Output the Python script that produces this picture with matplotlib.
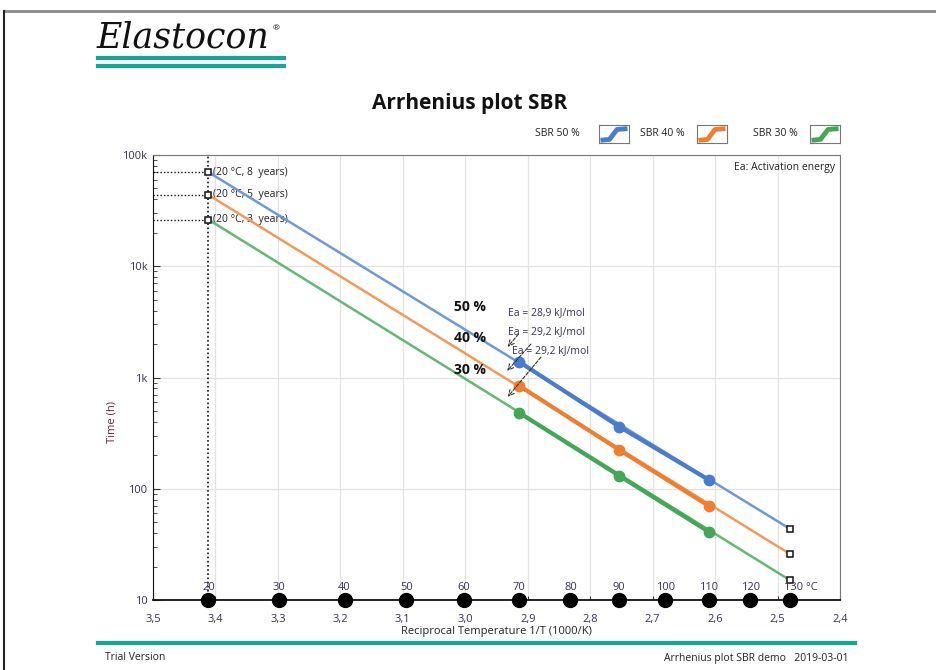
import numpy as np
import matplotlib
matplotlib.use("Agg")
import matplotlib.pyplot as plt
from matplotlib.lines import Line2D
from matplotlib.ticker import FixedLocator, LogLocator, NullFormatter

plt.rcParams["font.family"] = ["Open Sans", "DejaVu Sans"]

# ── Data ──────────────────────────────────────────────────────────────────────
series_names = ["SBR 50 %", "SBR 40 %", "SBR 30 %"]
series_short = ["50 %", "40 %", "30 %"]
series_colors = ["#4a7ccc", "#ee7f32", "#45a657"]
fit_colors = ["#6f98d8", "#f29a5c", "#62b874"]

test_temps = [70, 90, 110]                 # °C
test_times = [[1390, 362, 120],            # h, SBR 50 %
              [847, 224, 70],              # SBR 40 %
              [484, 131, 41]]              # SBR 30 %

fit_temps = [20, 130]
fit_times = [[70080, 43.7],                # 8 years at 20 °C
             [43800, 26.0],                # 5 years
             [26280, 15.1]]                # 3 years
life_labels = ["(20 °C, 8  years)", "(20 °C, 5  years)", "(20 °C, 3  years)"]
ea_labels = ["Ea = 28,9 kJ/mol", "Ea = 29,2 kJ/mol", "Ea = 29,2 kJ/mol"]

temp_marks = [20, 30, 40, 50, 60, 70, 80, 90, 100, 110, 120, 130]
xtick_vals = [3.5, 3.4, 3.3, 3.2, 3.1, 3.0, 2.9, 2.8, 2.7, 2.6, 2.5, 2.4]
ytick_vals = [10, 100, 1000, 10000, 100000]
ytick_labels = ["10", "100", "1k", "10k", "100k"]


def inv_t(t):
    return 1000.0 / (np.asarray(t, dtype=float) + 273.15)


W, H = 936, 670
fig = plt.figure(figsize=(W / 100, H / 100), dpi=100)
TEAL = "#17a596"
TXT = "#3a3158"

# ── Page decorations ──────────────────────────────────────────────────────────
fig.add_artist(Line2D([4 / W, 1], [1 - 11 / H] * 2, color="#8a8a8a", lw=2))
fig.add_artist(Line2D([4 / W] * 2, [0, 1 - 11 / H], color="#222222", lw=1.5))
fig.text(97 / W, 1 - 37 / H, "Elastocon", family="DejaVu Serif", style="italic",
         fontsize=25, color="#111111", va="center", ha="left")
fig.text(273 / W, 1 - 29 / H, "®", fontsize=6, color="#111111", va="center")
for yy in [58, 66]:
    fig.add_artist(Line2D([98 / W, 284 / W], [1 - yy / H] * 2, color=TEAL, lw=3))
fig.add_artist(Line2D([98 / W, 855 / W], [1 - 643 / H] * 2, color=TEAL, lw=3))
fig.text(105 / W, 1 - 658 / H, "Trial Version", fontsize=7.5, color="#222222", va="center")
fig.text(848 / W, 1 - 658 / H, "Arrhenius plot SBR demo   2019-03-01", fontsize=7.5,
         color="#222222", va="center", ha="right")
fig.text(470 / W, 1 - 103 / H, "Arrhenius plot SBR", fontsize=15, fontweight="bold",
         ha="center", va="center", color="#111111")

# legend: label + small icon box
leg_pos = [(557, 599), (662, 697), (775, 810)]
for name, col, (tx, ix) in zip(series_names, series_colors, leg_pos):
    fig.text(tx / W, 1 - 134 / H, name, fontsize=7.5, ha="center", va="center", color="#222222")
    iax = fig.add_axes([ix / W, 1 - 143 / H, 30 / W, 18 / H])
    iax.plot([0.05, 0.35, 0.6, 0.95], [0.15, 0.2, 0.75, 0.8], color=col, lw=3.5,
             solid_capstyle="butt")
    iax.set_xlim(0, 1)
    iax.set_ylim(0, 1)
    iax.set_xticks([])
    iax.set_yticks([])
    for s in iax.spines.values():
        s.set_color("#777777")
        s.set_linewidth(0.8)

# ── Main axes ─────────────────────────────────────────────────────────────────
ax = fig.add_axes([153 / W, 1 - 600 / H, (840 - 153) / W, (600 - 155) / H])
ax.set_yscale("log")
ax.set_xlim(3.5, 2.4)
ax.set_ylim(10, 100000)

ax.xaxis.set_major_locator(FixedLocator(xtick_vals))
ax.set_xticklabels([f"{v:.1f}".replace(".", ",") for v in xtick_vals], fontsize=8, color=TXT)
ax.yaxis.set_major_locator(FixedLocator(ytick_vals))
ax.set_yticklabels(ytick_labels, fontsize=8, color=TXT)
ax.yaxis.set_minor_locator(LogLocator(base=10, subs=np.arange(2, 10)))
ax.yaxis.set_minor_formatter(NullFormatter())
ax.tick_params(axis="both", which="both", direction="in", color="#333333")
ax.tick_params(axis="x", which="major", length=3, pad=10)
ax.tick_params(axis="y", which="major", length=5, pad=4)
ax.tick_params(axis="y", which="minor", length=3)
ax.grid(True, which="major", color="#e3e3e3", lw=0.9)
ax.set_axisbelow(True)
for side in ["top", "right"]:
    ax.spines[side].set_color("#777777")
ax.spines["left"].set_color("#111111")
ax.spines["bottom"].set_color("#111111")
ax.spines["bottom"].set_linewidth(1.3)

ax.set_xlabel("Reciprocal Temperature 1/T (1000/K)", fontsize=8, color="#222222", labelpad=1)
ax.set_ylabel("Time (h)", fontsize=8, color="#6b2040")
ax.yaxis.set_label_coords(-0.051, 0.40)

x20 = inv_t(20)
ax.plot([x20, x20], [10, 100000], color="#111111", lw=1.2, ls=(0, (1, 1.5)), zorder=3)

for i in range(3):
    fx = inv_t(fit_temps)
    ax.plot(fx, fit_times[i], color=fit_colors[i], lw=1.8, zorder=4)
    ax.plot(inv_t(test_temps), test_times[i], color=series_colors[i], lw=3,
            marker="o", ms=7.5, zorder=5)
    ax.plot(fx, fit_times[i], ls="none", marker="s", ms=4.5, mfc="white",
            mec="#111111", mew=1.1, zorder=6)
    ax.plot([3.5, x20], [fit_times[i][0]] * 2, color="#111111", lw=1.0,
            ls=(0, (1, 1.5)), zorder=3)
    ax.annotate(life_labels[i], (x20, fit_times[i][0]), xytext=(3, 0),
                textcoords="offset points", fontsize=7.5, color="#222222", va="center")

# temperature scale markers on the x axis
ax.plot(inv_t(temp_marks), [10] * len(temp_marks), ls="none", marker="o", ms=10,
        color="#000000", clip_on=False, zorder=7)
for t in temp_marks:
    lab = f"{t} °C" if t == temp_marks[-1] else str(t)
    ax.annotate(lab, (inv_t(t), 10), xytext=(8 if t == temp_marks[-1] else 0, 9),
                textcoords="offset points", ha="center", va="center", fontsize=8,
                color=TXT, zorder=8)

# series labels and activation energy notes
short_pos = [(2.992, 4300), (2.992, 2265), (2.992, 1167)]
for s, (px, py) in zip(series_short, short_pos):
    ax.text(px, py, s, fontsize=10, fontweight="bold", color="#111111",
            ha="center", va="center", zorder=8)

ea_text_pos = [(2.932, 3800), (2.932, 2566), (2.925, 1730)]
ea_heads = [(2.935, 1803), (2.936, 1097), (2.935, 641)]
ea_tails = [(2.912, 2566), (2.892, 2084), (2.876, 1592)]
for lab, tp, hd, tl in zip(ea_labels, ea_text_pos, ea_heads, ea_tails):
    ax.text(tp[0], tp[1], lab, fontsize=7.5, color=TXT, ha="left", va="center", zorder=8)
    ax.annotate("", xy=hd, xytext=tl,
                arrowprops=dict(arrowstyle="->", color="#333333", lw=0.8,
                                linestyle=(0, (3, 1.5))), zorder=8)

ax.text(0.993, 0.971, "Ea: Activation energy", transform=ax.transAxes, fontsize=7.5,
        color="#222222", ha="right", va="center")

fig.savefig("out.png", dpi=100)
